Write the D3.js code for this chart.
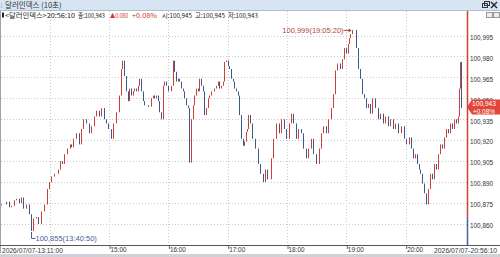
<!DOCTYPE html>
<html>
<head>
<meta charset="utf-8">
<script src="https://cdn.jsdelivr.net/npm/d3@7"></script>
<style>
  body { margin: 0; background: #fff; }
  svg { display: block; font-family: "Liberation Sans Narrow", "Liberation Sans", "Noto Sans CJK KR", sans-serif; }
</style>
</head>
<body>
<svg id="chart"></svg>
<script>
// 10-second bars, sampled at roughly one bar per 2-3 minutes
const barTimes = [
  "13:11","13:16","13:19","13:21","13:24","13:26","13:29","13:31","13:33","13:36","13:39","13:40:50","13:43","13:46","13:48","13:51","13:54","13:57","13:59","14:01",
  "14:04","14:08","14:10","14:12","14:14","14:17","14:20","14:22","14:24","14:27","14:30","14:32","14:34","14:37","14:40","14:42","14:45","14:47","14:50","14:52","14:55","14:57","14:59",
  "15:02","15:04","15:07","15:10","15:12","15:13","15:15","15:17","15:19","15:20","15:22","15:24","15:25","15:27","15:29","15:30","15:32","15:34","15:35","15:39","15:42","15:44","15:45","15:47","15:50","15:51","15:53","15:55","15:56","15:58",
  "16:00","16:03","16:05","16:06","16:08","16:10","16:11","16:13","16:15","16:16","16:18","16:20","16:21","16:23","16:25","16:26","16:28","16:30","16:31","16:33","16:35","16:36","16:38","16:40","16:41","16:43","16:46","16:48","16:50","16:51","16:53","16:55","16:56","16:58",
  "17:00","17:01","17:03","17:05","17:06","17:08","17:10","17:11","17:13","17:15","17:16","17:18","17:20","17:21","17:23","17:25","17:28","17:31","17:33","17:36","17:38","17:40","17:44","17:46","17:49","17:52","17:54","17:57","17:59",
  "18:02","18:04","18:06","18:09","18:11","18:14","18:16","18:19","18:21","18:24","18:26","18:29","18:32","18:34","18:36","18:39","18:41","18:44","18:46","18:49","18:51","18:54","18:56","18:58","19:00","19:02","19:03","19:04","19:05:20",
  "19:10","19:12","19:14","19:16","19:18","19:20","19:22","19:24","19:26","19:29","19:32","19:34","19:37","19:39","19:42","19:44","19:47","19:49","19:52","19:55","19:58","20:00",
  "20:03","20:05","20:07","20:09","20:11","20:13","20:15","20:17","20:19","20:21","20:23","20:25","20:27","20:29","20:31","20:33","20:35","20:37","20:39","20:41","20:43","20:45","20:47","20:49","20:51","20:53","20:54","20:55","20:55:30","20:56:10"
];
const barClose = [
  100.874,100.876,100.872,100.873,100.877,100.878,100.875,100.879,100.871,100.874,100.867,100.855,100.864,100.865,100.860,100.869,100.874,100.885,100.890,100.894,
  100.896,100.899,100.905,100.903,100.910,100.914,100.917,100.915,100.921,100.925,100.917,100.928,100.935,100.932,100.925,100.930,100.937,100.941,100.937,100.943,100.935,100.932,100.928,
  100.921,100.932,100.940,100.952,100.971,100.977,100.966,100.955,100.948,100.957,100.952,100.955,100.957,100.955,100.959,100.964,100.955,100.948,100.945,100.944,100.950,100.952,100.950,100.952,100.948,100.940,100.935,100.959,100.962,100.959,
  100.955,100.959,100.977,100.969,100.962,100.964,100.962,100.957,100.955,100.950,100.945,100.943,100.904,100.935,100.945,100.952,100.957,100.955,100.964,100.959,100.955,100.938,100.943,100.950,100.952,100.955,100.957,100.959,100.962,100.957,100.959,100.962,100.976,100.977,
  100.973,100.971,100.964,100.962,100.957,100.955,100.952,100.938,100.921,100.916,100.919,100.926,100.928,100.938,100.932,100.921,100.914,100.903,100.896,100.890,100.899,100.892,100.907,100.921,100.932,100.925,100.935,100.928,100.921,
  100.932,100.939,100.932,100.921,100.928,100.925,100.914,100.907,100.914,100.921,100.910,100.903,100.914,100.925,100.930,100.925,100.935,100.943,100.953,100.970,100.975,100.971,100.978,100.986,100.982,100.989,100.993,100.996,100.999,
  100.986,100.971,100.964,100.953,100.950,100.943,100.946,100.939,100.950,100.943,100.935,100.939,100.932,100.937,100.930,100.935,100.928,100.932,100.925,100.930,100.921,100.917,
  100.922,100.914,100.907,100.910,100.903,100.899,100.896,100.889,100.882,100.874,100.885,100.896,100.892,100.903,100.899,100.910,100.917,100.914,100.922,100.928,100.925,100.932,100.928,100.935,100.932,100.937,100.957,100.976,100.962,100.943
];

const priceTicks = [100.860, 100.875, 100.890, 100.905, 100.920, 100.935, 100.950, 100.965, 100.980, 100.995];
const hourTicks = ["15:00", "16:00", "17:00", "18:00", "19:00", "20:00"];
const gridHours = ["14:00", "15:00", "16:00", "17:00", "18:00", "19:00", "20:00"];
const sessionStart = "13:11:00";
const sessionEnd = "20:56:10";
const sessionDate = "2026/07/07";

const chartTitle = "달러인덱스 (10초)";
const symbolName = "<달러인덱스>";
const lastTime = "20:56:10";
const lastPrice = 100.943;
const priceChange = 0.080;
const changePct = 0.08;
const openPrice = 100.945;
const highPrice = 100.945;
const lowPrice = 100.943;
const maxPoint = { time: "19:05:20", value: 100.999 };
const minPoint = { time: "13:40:50", value: 100.855 };

const W = 500, H = 257;
const fmt = v => d3.format(".3f")(v).replace(".", ",");
const parseT = s => d3.timeParse(s.length > 5 ? "%H:%M:%S" : "%H:%M")(s);

const bars = barTimes.map((t, i) => ({
  t: parseT(t),
  o: i === 0 ? barClose[0] : barClose[i - 1],
  c: barClose[i]
}));

const svg = d3.select("#chart").attr("width", W).attr("height", H);

const x = d3.scaleTime()
  .domain([parseT(sessionStart), parseT(sessionEnd)])
  .range([1.3, 461.2]);
const y = d3.scaleLinear()
  .domain([100.860, 100.995])
  .range([224, 35.5]);

const axisX = 467;
const plotTop = 11, plotBottom = 245;

// title bar
svg.append("rect").attr("x", 0).attr("y", 0).attr("width", W).attr("height", 10).attr("fill", "#d7e4f1");
svg.append("line").attr("x1", 0).attr("x2", W).attr("y1", 10.5).attr("y2", 10.5).attr("stroke", "#aebfd2");
svg.append("text").attr("x", 0.5).attr("y", 8).attr("font-size", 7).attr("fill", "#8a9bb0").text("⁞");
svg.append("text").attr("x", 5).attr("y", 8).attr("font-size", 7.5)
  .style("font-family", "'Noto Sans CJK KR', sans-serif").attr("fill", "#333").text(chartTitle);
// window buttons
svg.append("rect").attr("x", 482.5).attr("y", 3.5).attr("width", 5).attr("height", 4).attr("fill", "none").attr("stroke", "#333");
svg.append("rect").attr("x", 484.5).attr("y", 1.5).attr("width", 5).attr("height", 4).attr("fill", "none").attr("stroke", "#333");
svg.append("path").attr("d", "M491,2 L497,8 M497,2 L491,8").attr("stroke", "#222").attr("stroke-width", 1.4);

// left frame line
svg.append("line").attr("x1", 0.5).attr("x2", 0.5).attr("y1", 11).attr("y2", 253).attr("stroke", "#9aa4ae");

// grid
const grid = svg.append("g").attr("stroke", "#c9c9c9").attr("stroke-dasharray", "1,2");
grid.selectAll(".hg").data(priceTicks).join("line")
  .attr("x1", 1).attr("x2", axisX)
  .attr("y1", d => Math.round(y(d)) + 0.5).attr("y2", d => Math.round(y(d)) + 0.5);
grid.selectAll(".vg").data(gridHours).join("line")
  .attr("x1", d => Math.round(x(parseT(d))) + 0.5).attr("x2", d => Math.round(x(parseT(d))) + 0.5)
  .attr("y1", plotTop).attr("y2", plotBottom);

// info line, each piece squeezed to the width it takes in the original
const infoParts = [
  { x: 5,   w: 70, c: "#222",    t: symbolName + lastTime },
  { x: 78,  w: 27, c: "#222",    t: "종:" + fmt(lastPrice) },
  { x: 110, w: 18, c: "#d03a2c", t: "▲" + d3.format(".3f")(priceChange) },
  { x: 132, w: 25, c: "#d03a2c", t: "+" + d3.format(".2f")(changePct) + "%" },
  { x: 162, w: 30, c: "#222",    t: "시:" + fmt(openPrice) },
  { x: 195, w: 30, c: "#222",    t: "고:" + fmt(highPrice) },
  { x: 228, w: 30, c: "#222",    t: "저:" + fmt(lowPrice) }
];
svg.append("rect").attr("x", 2).attr("y", 12.5).attr("width", 2).attr("height", 5).attr("fill", "#222");
svg.append("g").attr("font-size", 6.5)
  .style("font-family", "'Liberation Sans Narrow', 'Noto Sans CJK KR', sans-serif")
  .selectAll("text").data(infoParts).join("text")
  .attr("x", d => d.x).attr("y", 18)
  .attr("textLength", d => d.w).attr("lengthAdjust", "spacingAndGlyphs")
  .attr("fill", d => d.c).text(d => d.t);
// small panel buttons
svg.append("rect").attr("x", 486.5).attr("y", 12.5).attr("width", 6).attr("height", 5).attr("fill", "#eee").attr("stroke", "#999");
svg.append("rect").attr("x", 493.5).attr("y", 12.5).attr("width", 6).attr("height", 5).attr("fill", "#eee").attr("stroke", "#999");

// candles
svg.append("g").selectAll("line").data(bars).join("line")
  .attr("x1", d => Math.round(x(d.t)) + 0.5)
  .attr("x2", d => Math.round(x(d.t)) + 0.5)
  .attr("y1", d => y(d.o))
  .attr("y2", d => Math.abs(y(d.c) - y(d.o)) < 1 ? y(d.o) + 1 : y(d.c))
  .attr("stroke", d => d.c >= d.o ? "#cf3f36" : "#3f568f")
  .attr("stroke-width", 1);

// max annotation
const mx = x(parseT(maxPoint.time)), my = y(maxPoint.value);
svg.append("line").attr("x1", mx - 8).attr("x2", mx - 1).attr("y1", my + 0.5).attr("y2", my + 0.5).attr("stroke", "#b0483c");
svg.append("path").attr("d", `M${mx},${my + 0.5} L${mx - 3},${my - 1.5} L${mx - 3},${my + 2.5} Z`).attr("fill", "#b0483c");
svg.append("text").attr("x", mx - 8).attr("y", my + 3).attr("text-anchor", "end")
  .attr("font-size", 7.5).attr("fill", "#b0483c")
  .text(`${fmt(maxPoint.value)}(${maxPoint.time})`);

// min annotation
const nx = Math.round(x(parseT(minPoint.time))) + 0.5, ny = y(minPoint.value);
svg.append("path").attr("d", `M${nx},${ny + 1} L${nx},${ny + 7.5} L${nx + 4},${ny + 7.5}`)
  .attr("fill", "none").attr("stroke", "#4b5e96");
svg.append("text").attr("x", nx + 4).attr("y", ny + 10).attr("font-size", 7.5).attr("fill", "#4b5e96")
  .text(`${fmt(minPoint.value)}(${minPoint.time})`);

// right axis
const yAxis = d3.axisRight(y).tickValues(priceTicks).tickSize(0).tickFormat(fmt);
const yg = svg.append("g").attr("transform", `translate(${axisX + 2},1.5)`).call(yAxis);
yg.select(".domain").remove();
yg.selectAll("text").attr("x", 1).attr("font-size", 7).attr("fill", "#333")
  .attr("textLength", 23).attr("lengthAdjust", "spacingAndGlyphs")
  .style("font-family", "'Liberation Sans Narrow', 'Liberation Sans', sans-serif");
svg.append("line").attr("x1", axisX + 0.5).attr("x2", axisX + 0.5).attr("y1", plotTop).attr("y2", 218)
  .attr("stroke", "#d2402f").attr("stroke-width", 1.5);
svg.append("line").attr("x1", axisX + 0.5).attr("x2", axisX + 0.5).attr("y1", 218).attr("y2", plotBottom)
  .attr("stroke", "#3f64a8").attr("stroke-width", 1.5);

// current price tag (covers most of the 100,950 label, as in the original)
const py = y(lastPrice) - 1;
svg.append("path")
  .attr("d", `M${axisX},${py} L${axisX + 5},${py - 7.5} L${W},${py - 7.5} L${W},${py + 7.5} L${axisX + 5},${py + 7.5} Z`)
  .attr("fill", "#e2463a");
svg.append("text").attr("x", 472).attr("y", py - 0.8).attr("font-size", 6.8).attr("fill", "#fff")
  .attr("textLength", 24).attr("lengthAdjust", "spacingAndGlyphs").text(fmt(lastPrice));
svg.append("text").attr("x", 473).attr("y", py + 6.6).attr("font-size", 6.8).attr("fill", "#fff")
  .attr("textLength", 22).attr("lengthAdjust", "spacingAndGlyphs")
  .text("+" + d3.format(".2f")(changePct) + "%");

// bottom time axis
svg.append("line").attr("x1", 0).attr("x2", W).attr("y1", plotBottom + 0.5).attr("y2", plotBottom + 0.5).attr("stroke", "#555");
const xAxis = d3.axisBottom(x).tickValues(hourTicks.map(parseT)).tickSize(3).tickFormat(d3.timeFormat("%H:%M"));
const xg = svg.append("g").attr("transform", `translate(0.5,${plotBottom + 1})`).call(xAxis);
xg.select(".domain").remove();
xg.selectAll("line").attr("stroke", "#666");
xg.selectAll("text").attr("text-anchor", "start").attr("x", 0.5).attr("y", 1).attr("font-size", 7.5).attr("fill", "#333")
  .attr("textLength", 16).attr("lengthAdjust", "spacingAndGlyphs")
  .style("font-family", "'Liberation Sans Narrow', 'Liberation Sans', sans-serif");
svg.append("text").attr("x", 2).attr("y", 253).attr("font-size", 7).attr("fill", "#333")
  .attr("textLength", 61).attr("lengthAdjust", "spacingAndGlyphs")
  .text(`${sessionDate}-${sessionStart}`);
svg.append("text").attr("x", 434).attr("y", 253).attr("font-size", 7).attr("fill", "#333")
  .attr("textLength", 63).attr("lengthAdjust", "spacingAndGlyphs")
  .text(`${sessionDate}-${sessionEnd}`);
svg.append("rect").attr("x", 0).attr("y", 254).attr("width", W).attr("height", 3).attr("fill", "#cfd3d8");
</script>
</body>
</html>
